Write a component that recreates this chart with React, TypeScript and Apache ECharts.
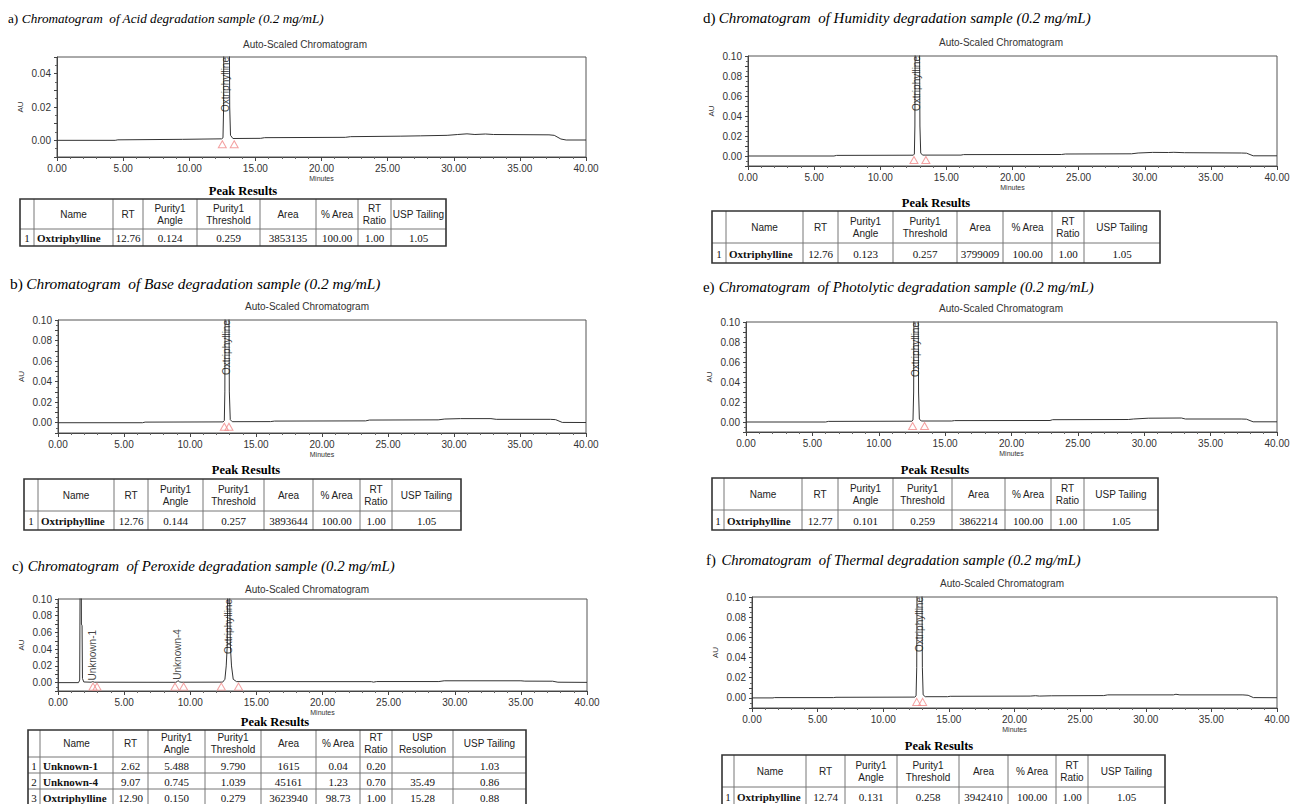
import React, { useEffect, useRef } from "react";
import * as echarts from "echarts";

// ---------------- DATA ----------------
const panelLetters = ["a)", "b)", "c)", "d)", "e)", "f)"];
const panelTitles = [
  "Chromatogram  of Acid degradation sample (0.2 mg/mL)",
  "Chromatogram  of Base degradation sample (0.2 mg/mL)",
  "Chromatogram  of Peroxide degradation sample (0.2 mg/mL)",
  "Chromatogram  of Humidity degradation sample (0.2 mg/mL)",
  "Chromatogram  of Photolytic degradation sample (0.2 mg/mL)",
  "Chromatogram  of Thermal degradation sample (0.2 mg/mL)",
];
const chartSubtitle = "Auto-Scaled Chromatogram";
const xAxisName = "Minutes";
const yAxisName = "AU";
const xRange = [0, 40];
const xTickStep = 5;
const yMin = -0.01;
const yMaxByPanel = [0.05, 0.1, 0.1, 0.1, 0.1, 0.1];

// traces: [minutes, AU]
const traceAcid = [
  [0, 0], [4.4, 0], [4.6, 0.0003], [9.5, 0.0006], [12.45, 0.0009], [12.55, 0.0015],
  [12.6, 0.02], [12.63, 0.15], [12.76, 0.45], [12.98, 0.15], [13.06, 0.02], [13.12, 0.003],
  [13.3, 0.0011], [15.4, 0.0012], [15.7, 0.0016], [21.8, 0.0018], [22.2, 0.0022], [26, 0.0025],
  [27.5, 0.0027], [29.5, 0.003], [30.3, 0.0035], [31, 0.0039], [31.6, 0.0035], [32.4, 0.0038],
  [33, 0.0035], [37.2, 0.0033], [37.6, 0.003], [38.1, 0.0008], [38.5, 0.0002], [40, 0.0002],
];
const traceBase = [
  [0, 0], [6.4, 0], [6.6, 0.0006], [12.5, 0.0008], [12.6, 0.002], [12.64, 0.03], [12.68, 0.2],
  [12.78, 0.5], [12.92, 0.2], [12.98, 0.03], [13.05, 0.003], [13.2, 0.001], [16.1, 0.0011],
  [16.4, 0.0016], [23.3, 0.0018], [23.6, 0.0026], [28.8, 0.0028], [29.3, 0.0036], [30.5, 0.004],
  [32.8, 0.004], [33.2, 0.0033], [37.3, 0.0033], [37.7, 0.003], [38.2, 0.0003], [40, 0.0002],
];
const tracePeroxide = [
  [0, 0], [1.55, 0], [1.64, 0.003], [1.68, 0.15], [1.72, 0.4], [1.77, 0.07], [1.82, 0.068],
  [1.85, 0.005], [1.95, 0.0008], [2.5, 0.0005], [2.62, 0.0012], [2.75, 0.0005], [8.9, 0.0004],
  [9.0, 0.001], [9.07, 0.0025], [9.18, 0.001], [9.3, 0.0005], [12.45, 0.0006], [12.62, 0.004],
  [12.72, 0.02], [12.8, 0.045], [12.84, 0.12], [12.9, 0.35], [12.97, 0.12], [13.03, 0.045],
  [13.12, 0.02], [13.25, 0.004], [13.5, 0.0012], [23.7, 0.0012], [23.85, 0.0006], [24.1, 0.0013],
  [28.8, 0.0013], [29.2, 0.0022], [35, 0.0022], [35.3, 0.0018], [37.4, 0.0017], [37.8, 0.0005],
  [40, 0.0003],
];
const traceHumidity = [
  [0, 0], [6.5, 0], [6.7, 0.0006], [12.5, 0.0008], [12.58, 0.002], [12.62, 0.03], [12.66, 0.2],
  [12.76, 0.5], [12.94, 0.2], [13.0, 0.03], [13.06, 0.003], [13.2, 0.0009], [16.1, 0.0009],
  [16.3, 0.0014], [23.7, 0.0015], [24, 0.002], [29, 0.0022], [29.5, 0.003], [30.6, 0.0036],
  [31.8, 0.0035], [32.2, 0.0037], [33, 0.0033], [37.3, 0.003], [37.7, 0.0028], [38.2, 0.0002],
  [40, 0.0002],
];
const tracePhotolytic = [
  [0, 0], [6, 0], [6.2, 0.0006], [12.5, 0.0008], [12.58, 0.002], [12.63, 0.03], [12.67, 0.2],
  [12.77, 0.5], [12.94, 0.2], [13.0, 0.03], [13.06, 0.003], [13.2, 0.001], [15.5, 0.001],
  [15.7, 0.0014], [22.9, 0.0015], [23.1, 0.0023], [28.8, 0.0025], [29.2, 0.003], [30.3, 0.0038],
  [32.8, 0.004], [33.1, 0.003], [37.3, 0.003], [37.7, 0.0028], [38.2, 0.0002], [40, 0.0002],
];
const traceThermal = [
  [0, 0], [1.6, 0], [1.7, 0.0003], [6.2, 0.0003], [6.4, 0.0006], [12.4, 0.0008], [12.5, 0.002],
  [12.55, 0.03], [12.6, 0.2], [12.74, 0.5], [12.92, 0.2], [12.98, 0.03], [13.04, 0.003],
  [13.2, 0.0012], [14.9, 0.0012], [15.1, 0.0016], [21.2, 0.0018], [21.6, 0.0022], [21.9, 0.0018],
  [22.8, 0.0021], [26.8, 0.0023], [27.1, 0.003], [32.1, 0.003], [32.3, 0.0036], [32.6, 0.003],
  [37.4, 0.003], [37.8, 0.0026], [38.2, 0.0003], [40, 0.0002],
];
const traces = [traceAcid, traceBase, tracePeroxide, traceHumidity, tracePhotolytic, traceThermal];

// peak start / end markers (minutes)
const markersAcid = [12.5, 13.4];
const markersBase = [12.6, 12.95];
const markersPeroxide = [2.65, 2.95, 8.85, 9.5, 12.35, 13.65];
const markersHumidity = [12.55, 13.45];
const markersPhotolytic = [12.55, 13.45];
const markersThermal = [12.55, 13.0];
const markers = [markersAcid, markersBase, markersPeroxide, markersHumidity, markersPhotolytic, markersThermal];

// peak names: [name, RT, AU level of label base or null = top of scale]
const peakLabelsAcid: [string, number, number | null][] = [["Oxtriphylline", 12.76, null]];
const peakLabelsBase: [string, number, number | null][] = [["Oxtriphylline", 12.76, null]];
const peakLabelsPeroxide: [string, number, number | null][] = [
  ["Unknown-1", 2.62, 0.0025],
  ["Unknown-4", 9.07, 0.0035],
  ["Oxtriphylline", 12.9, null],
];
const peakLabelsHumidity: [string, number, number | null][] = [["Oxtriphylline", 12.76, null]];
const peakLabelsPhotolytic: [string, number, number | null][] = [["Oxtriphylline", 12.77, null]];
const peakLabelsThermal: [string, number, number | null][] = [["Oxtriphylline", 12.74, null]];
const peakLabels = [peakLabelsAcid, peakLabelsBase, peakLabelsPeroxide, peakLabelsHumidity, peakLabelsPhotolytic, peakLabelsThermal];

// tables
const tableTitle = "Peak Results";
const headerMain = ["", "Name", "RT", "Purity1\nAngle", "Purity1\nThreshold", "Area", "% Area", "RT\nRatio", "USP Tailing"];
const headerPeroxide = ["", "Name", "RT", "Purity1\nAngle", "Purity1\nThreshold", "Area", "% Area", "RT\nRatio", "USP\nResolution", "USP Tailing"];
const rowsAcid = [["1", "Oxtriphylline", "12.76", "0.124", "0.259", "3853135", "100.00", "1.00", "1.05"]];
const rowsBase = [["1", "Oxtriphylline", "12.76", "0.144", "0.257", "3893644", "100.00", "1.00", "1.05"]];
const rowsPeroxide = [
  ["1", "Unknown-1", "2.62", "5.488", "9.790", "1615", "0.04", "0.20", "", "1.03"],
  ["2", "Unknown-4", "9.07", "0.745", "1.039", "45161", "1.23", "0.70", "35.49", "0.86"],
  ["3", "Oxtriphylline", "12.90", "0.150", "0.279", "3623940", "98.73", "1.00", "15.28", "0.88"],
];
const rowsHumidity = [["1", "Oxtriphylline", "12.76", "0.123", "0.257", "3799009", "100.00", "1.00", "1.05"]];
const rowsPhotolytic = [["1", "Oxtriphylline", "12.77", "0.101", "0.259", "3862214", "100.00", "1.00", "1.05"]];
const rowsThermal = [["1", "Oxtriphylline", "12.74", "0.131", "0.258", "3942410", "100.00", "1.00", "1.05"]];
const tableHeaders = [headerMain, headerMain, headerPeroxide, headerMain, headerMain, headerMain];
const tableRows = [rowsAcid, rowsBase, rowsPeroxide, rowsHumidity, rowsPhotolytic, rowsThermal];

// ---------------- LAYOUT ----------------
const plotBoxes = [
  { x0: 57, x1: 586, y0: 57, y1: 157 },
  { x0: 58, x1: 586, y0: 320, y1: 433 },
  { x0: 58, x1: 587, y0: 599, y1: 691 },
  { x0: 748, x1: 1277, y0: 56, y1: 166 },
  { x0: 746, x1: 1277, y0: 322, y1: 432 },
  { x0: 752, x1: 1277, y0: 597, y1: 708 },
];
const titlePos = [[8, 18], [10, 283], [12, 566], [703, 18], [703, 287], [706, 560]];
const titleFontSize = [13.2, 15.4, 14.9, 15, 14.9, 14.7];
const subtitlePos = [[305, 44], [307, 306], [307, 589], [1001, 42], [1001, 308], [1002, 583]];
const tableTitlePos = [[243, 191], [246, 470], [275, 722], [936, 203], [935, 470], [939, 746]];
const tableCols = [
  [20, 34, 113, 143, 197, 260, 316, 358, 391, 446],
  [24, 38, 114, 148, 203, 264, 313, 360, 392, 461],
  [28, 40, 113, 148, 205, 261, 316, 360, 392, 453, 526],
  [712, 726, 803, 838, 893, 957, 1003, 1052, 1084, 1160],
  [712, 724, 802, 838, 893, 952, 1005, 1051, 1084, 1158],
  [722, 734, 806, 845, 897, 959, 1008, 1056, 1088, 1165],
];
const tableRowsY = [
  [199, 229, 246],
  [479, 511, 530],
  [730, 757, 773, 789, 805],
  [211, 243, 263],
  [478, 510, 530],
  [755, 787, 806],
];

const SANS = '"Liberation Sans", Arial, sans-serif';
const SERIF = '"Liberation Serif", "Times New Roman", serif';
const AXIS_COLOR = "#444";
const TEXT_COLOR = "#333";

function buildOption() {
  const grid: any[] = [];
  const xAxis: any[] = [];
  const yAxis: any[] = [];
  const series: any[] = [];
  const graphics: any[] = [];

  plotBoxes.forEach((b, i) => {
    const yMax = yMaxByPanel[i];
    grid.push({
      left: b.x0,
      top: b.y0,
      width: b.x1 - b.x0,
      height: b.y1 - b.y0,
      show: true,
      borderColor: "#555",
      borderWidth: 1,
      backgroundColor: "transparent",
      containLabel: false,
      outerBoundsMode: "none",
    });
    xAxis.push({
      type: "value",
      gridIndex: i,
      min: xRange[0],
      max: xRange[1],
      interval: xTickStep,
      name: xAxisName,
      nameLocation: "middle",
      nameGap: 18,
      nameTextStyle: { fontSize: 7, fontFamily: SANS, color: TEXT_COLOR },
      axisLine: { show: true, onZero: false, lineStyle: { color: AXIS_COLOR, width: 1 } },
      axisTick: { show: true, length: 4, lineStyle: { color: AXIS_COLOR } },
      minorTick: { show: true, splitNumber: 5, length: 2, lineStyle: { color: "#666" } },
      splitLine: { show: false },
      minorSplitLine: { show: false },
      axisLabel: {
        fontSize: 10,
        fontFamily: SANS,
        color: TEXT_COLOR,
        margin: 6,
        showMinLabel: true,
        showMaxLabel: true,
        formatter: (v: number) => v.toFixed(2),
      },
    });
    yAxis.push({
      type: "value",
      gridIndex: i,
      min: yMin,
      max: yMax,
      interval: 0.01,
      name: yAxisName,
      nameLocation: "middle",
      nameGap: 33,
      nameRotate: 90,
      nameTextStyle: { fontSize: 8, fontFamily: SANS, color: TEXT_COLOR },
      axisLine: { show: true, onZero: false, lineStyle: { color: AXIS_COLOR, width: 1 } },
      axisTick: { show: true, length: 3, lineStyle: { color: AXIS_COLOR } },
      minorTick: { show: true, splitNumber: 2, length: 2, lineStyle: { color: "#666" } },
      splitLine: { show: false },
      minorSplitLine: { show: false },
      axisLabel: {
        fontSize: 10,
        fontFamily: SANS,
        color: TEXT_COLOR,
        margin: 6,
        formatter: (v: number) => {
          const k = Math.round(v * 100);
          return k >= 0 && k % 2 === 0 ? (k / 100).toFixed(2) : "";
        },
      },
    });

    series.push({
      type: "line",
      xAxisIndex: i,
      yAxisIndex: i,
      data: traces[i],
      showSymbol: false,
      symbol: "none",
      clip: true,
      silent: true,
      lineStyle: { color: "#333", width: 1 },
      z: 2,
    });
    series.push({
      type: "scatter",
      xAxisIndex: i,
      yAxisIndex: i,
      data: markers[i].map((m) => [m, 0]),
      symbol: "triangle",
      symbolSize: [8, 7],
      symbolOffset: [0, 4],
      silent: true,
      clip: false,
      itemStyle: { color: "rgba(255,255,255,0)", borderColor: "#f08a8a", borderWidth: 1 },
      z: 3,
    });
    series.push({
      type: "scatter",
      xAxisIndex: i,
      yAxisIndex: i,
      clip: false,
      silent: true,
      symbolSize: 1,
      itemStyle: { color: "rgba(0,0,0,0)" },
      z: 4,
      data: peakLabels[i].map(([name, rt, lvl]) => ({
        value: [rt, lvl === null ? yMax : lvl],
        label: {
          show: true,
          position: "inside",
          formatter: name,
          rotate: 90,
          align: lvl === null ? "right" : "left",
          verticalAlign: "middle",
          fontSize: 10,
          fontFamily: SANS,
          color: "#111",
        },
      })),
    });

    // titles
    const [tx, ty] = titlePos[i];
    const fs = titleFontSize[i];
    graphics.push({
      type: "text",
      x: tx,
      y: ty,
      silent: true,
      style: {
        text: panelLetters[i],
        fill: "#000",
        fontSize: fs,
        fontFamily: SERIF,
        verticalAlign: "middle",
        textVerticalAlign: "middle",
      },
    });
    graphics.push({
      type: "text",
      x: tx + fs * 1.05,
      y: ty,
      silent: true,
      style: {
        text: panelTitles[i],
        fill: "#000",
        fontSize: fs,
        fontStyle: "italic",
        fontFamily: SERIF,
        verticalAlign: "middle",
        textVerticalAlign: "middle",
      },
    });
    const [sx, sy] = subtitlePos[i];
    graphics.push({
      type: "text",
      x: sx,
      y: sy,
      silent: true,
      style: {
        text: chartSubtitle,
        fill: TEXT_COLOR,
        fontSize: 10,
        fontFamily: SANS,
        align: "center",
        textAlign: "center",
        verticalAlign: "middle",
        textVerticalAlign: "middle",
      },
    });

    // table
    const [px, py] = tableTitlePos[i];
    graphics.push({
      type: "text",
      x: px,
      y: py,
      silent: true,
      style: {
        text: tableTitle,
        fill: "#000",
        fontSize: 12.5,
        fontWeight: "bold",
        fontFamily: SERIF,
        align: "center",
        textAlign: "center",
        verticalAlign: "middle",
        textVerticalAlign: "middle",
      },
    });
    const cols = tableCols[i];
    const rows = tableRowsY[i];
    const x0 = cols[0];
    const x1 = cols[cols.length - 1];
    const y0 = rows[0];
    const y1 = rows[rows.length - 1];
    for (let k = 1; k < cols.length - 1; k++) {
      graphics.push({
        type: "line",
        silent: true,
        shape: { x1: cols[k], y1: y0, x2: cols[k], y2: y1 },
        style: { stroke: "#777", lineWidth: 1 },
      });
    }
    for (let r = 1; r < rows.length - 1; r++) {
      graphics.push({
        type: "line",
        silent: true,
        shape: { x1: x0, y1: rows[r], x2: x1, y2: rows[r] },
        style: { stroke: "#777", lineWidth: 1 },
      });
    }
    graphics.push({
      type: "rect",
      silent: true,
      shape: { x: x0, y: y0, width: x1 - x0, height: y1 - y0 },
      style: { fill: "none", stroke: "#333", lineWidth: 1.6 },
    });
    const header = tableHeaders[i];
    header.forEach((h, k) => {
      if (!h) return;
      graphics.push({
        type: "text",
        silent: true,
        x: (cols[k] + cols[k + 1]) / 2,
        y: (rows[0] + rows[1]) / 2,
        style: {
          text: h,
          fill: "#222",
          fontSize: 10,
          fontFamily: SANS,
          lineHeight: 12,
          align: "center",
          textAlign: "center",
          verticalAlign: "middle",
          textVerticalAlign: "middle",
        },
      });
    });
    tableRows[i].forEach((row, r) => {
      row.forEach((cell, k) => {
        if (!cell) return;
        const isName = k === 1;
        graphics.push({
          type: "text",
          silent: true,
          x: isName ? cols[k] + 3 : (cols[k] + cols[k + 1]) / 2,
          y: (rows[r + 1] + rows[r + 2]) / 2 + 0.5,
          style: {
            text: cell,
            fill: "#111",
            fontSize: 11,
            fontWeight: isName ? "bold" : "normal",
            fontFamily: SERIF,
            align: isName ? "left" : "center",
            textAlign: isName ? "left" : "center",
            verticalAlign: "middle",
            textVerticalAlign: "middle",
          },
        });
      });
    });
  });

  return {
    animation: false,
    backgroundColor: "#fff",
    grid,
    xAxis,
    yAxis,
    series,
    graphic: { elements: graphics },
  };
}

export default function App() {
  const ref = useRef<HTMLDivElement>(null);
  useEffect(() => {
    if (!ref.current) return;
    const chart = echarts.init(ref.current, undefined, { renderer: "svg" });
    chart.setOption(buildOption() as any);
    return () => chart.dispose();
  }, []);
  return (
    <div
      ref={ref}
      style={{ position: "absolute", left: 0, top: 0, width: 1292, height: 804, background: "#fff" }}
    />
  );
}
